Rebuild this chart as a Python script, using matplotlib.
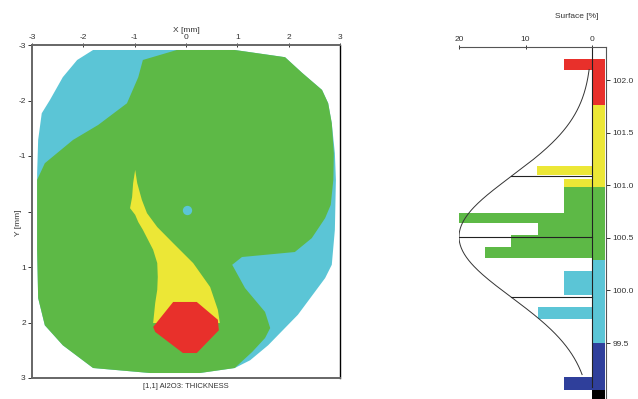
import numpy as np
import matplotlib
matplotlib.use('Agg')
import matplotlib.pyplot as plt

plt.rcParams['font.family'] = ['Liberation Sans', 'DejaVu Sans']
plt.rcParams['axes.unicode_minus'] = False

CYAN = '#5bc5d6'
GREEN = '#5db946'
YELLOW = '#ece736'
RED = '#e8302b'
BLUE = '#2f3f9b'

# thickness map outlines (x, y in mm)
outer_x = [-1.81, 0.95, 1.93, 2.26, 2.65, 2.77, 2.84, 2.90, 2.92, 2.90, 2.84, 2.71, 2.18, 1.60,
           1.25, 0.95, 0.27, -0.70, -1.81, -2.40, -2.75, -2.88, -2.90, -2.90, -2.88, -2.81,
           -2.65, -2.40, -2.12]
outer_y = [-2.91, -2.91, -2.78, -2.50, -2.19, -1.95, -1.59, -1.05, -0.57, 0.33, 0.96, 1.20, 1.86,
           2.41, 2.68, 2.82, 2.91, 2.91, 2.82, 2.41, 2.05, 1.56, 0.69, -0.69, -1.29, -1.77,
           -2.01, -2.42, -2.73]

green_x = [-0.18, 0.95, 1.93, 2.26, 2.65, 2.77, 2.84, 2.88, 2.87, 2.82, 2.71, 2.45, 2.12, 1.09,
           0.90, 1.15, 1.54, 1.64, 1.54, 1.29, 0.95, 0.27, -0.70, -1.81, -2.40, -2.75, -2.88,
           -2.90, -2.90, -2.75, -2.20, -1.71, -1.15, -0.93, -0.84]
green_y = [-2.91, -2.91, -2.78, -2.50, -2.19, -1.95, -1.59, -1.05, -0.57, -0.12, 0.12, 0.48,
           0.73, 0.82, 0.96, 1.38, 1.81, 2.10, 2.28, 2.53, 2.82, 2.91, 2.91, 2.82, 2.41, 2.05,
           1.56, 0.69, -0.57, -0.87, -1.29, -1.56, -1.95, -2.42, -2.73]

yellow_x = [-0.99, -1.03, -1.05, -1.09, -0.99, -0.93, -0.84, -0.74, -0.64, -0.56, -0.55, -0.56,
            -0.60, -0.64, 0.66, 0.62, 0.47, 0.14, -0.25, -0.56, -0.76, -0.86, -0.95]
yellow_y = [-0.75, -0.51, -0.26, -0.06, 0.06, 0.19, 0.33, 0.51, 0.69, 0.93, 1.18, 1.41, 1.65,
            2.01, 2.01, 1.77, 1.36, 0.93, 0.57, 0.28, 0.03, -0.21, -0.51]

red_x = [-0.64, -0.25, 0.21, 0.62, 0.64, 0.21, -0.06, -0.60]
red_y = [2.08, 1.63, 1.63, 1.95, 2.14, 2.55, 2.55, 2.17]

spot_x, spot_y = 0.02, -0.03

map_ticks = [-3, -2, -1, 0, 1, 2, 3]

# colour scale (thickness levels) and histogram bins
level_edges = [98.90, 99.05, 99.50, 100.29, 100.98, 101.76, 102.20]
level_colors = ['black', BLUE, CYAN, GREEN, YELLOW, RED]

bin_lo = [102.10, 101.10, 100.98, 100.74, 100.64, 100.53, 100.41, 100.31, 99.96, 99.73, 99.05]
bin_hi = [102.20, 101.18, 101.06, 100.98, 100.74, 100.64, 100.53, 100.41, 100.18, 99.84, 99.18]
bin_pct = [4.2, 8.3, 4.2, 4.2, 20.1, 8.1, 12.2, 16.1, 4.2, 8.1, 4.2]

fit_mean = 100.51
fit_sigma = 0.575
fit_peak = 20.0

hist_ticks = [99.5, 100.0, 100.5, 101.0, 101.5, 102.0]

fig = plt.figure(figsize=(6.38, 3.99), dpi=100)

# ---- thickness map ----
ax = fig.add_axes([32 / 638, 21 / 399, 308 / 638, 333 / 399])
ax.fill(outer_x, outer_y, color=CYAN, lw=0)
ax.fill(green_x, green_y, color=GREEN, lw=0)
ax.fill(yellow_x, yellow_y, color=YELLOW, lw=0)
ax.fill(red_x, red_y, color=RED, lw=0)
ax.scatter([spot_x], [spot_y], s=45, color=CYAN, marker='o', lw=0)
ax.set_xlim(-3, 3)
ax.set_ylim(3, -3)
ax.xaxis.tick_top()
ax.set_xticks(map_ticks)
ax.set_yticks(map_ticks)
ax.set_yticklabels([str(t) if t != 0 else '' for t in map_ticks])
ax.tick_params(axis='both', labelsize=6, colors='#333333', length=3, width=0.7, pad=1.5)
ax.tick_params(axis='x', direction='inout')
for side in ['left', 'bottom', 'top']:
    ax.spines[side].set_color('#666666')
    ax.spines[side].set_linewidth(1.4)
ax.spines['right'].set_color('black')
ax.spines['right'].set_linewidth(1.0)
fig.text(186 / 638, 1 - 30 / 399, 'X [mm]', fontsize=6, color='#333333', ha='center', va='center')
fig.text(18 / 638, 1 - 223 / 399, 'Y [mm]', fontsize=6, color='#333333', ha='center',
         va='center', rotation=90)
fig.text(186 / 638, 1 - 386 / 399, '[1,1] Al2O3: THICKNESS', fontsize=5.5, color='#333333',
         ha='center', va='center')

# ---- thickness distribution ----
hx = fig.add_axes([459 / 638, 0, 147 / 638, 352 / 399])
hx.set_xlim(20, -2.1)
hx.set_ylim(98.968, 102.314)

for i in range(len(level_colors)):
    hx.barh(level_edges[i], -2.0, height=level_edges[i + 1] - level_edges[i], left=0,
            align='edge', color=level_colors[i], lw=0)

for lo, hi, pct in zip(bin_lo, bin_hi, bin_pct):
    mid = (lo + hi) / 2
    k = np.searchsorted(level_edges, mid) - 1
    hx.barh(lo, pct, height=hi - lo, left=0, align='edge', color=level_colors[k], lw=0)

# fitted normal curve with mean and +/- 1 sigma markers
v = np.linspace(99.2, 102.1, 300)
curve = fit_peak * np.exp(-0.5 * ((v - fit_mean) / fit_sigma) ** 2)
hx.plot(curve, v, color='#333333', lw=0.7)
for d in [-1, 0, 1]:
    lv = fit_mean + d * fit_sigma
    hx.plot([fit_peak * np.exp(-0.5 * d * d), 0], [lv, lv], color='#222222', lw=0.8)
hx.plot([0, 0], [99.08, 102.314], color='#222222', lw=0.8)

hx.xaxis.tick_top()
hx.set_xticks([20, 10, 0])
hx.yaxis.tick_right()
hx.set_yticks(hist_ticks)
hx.set_yticklabels(['%.1f' % t for t in hist_ticks])
hx.tick_params(axis='both', labelsize=6, colors='#333333', length=3, width=0.7, pad=1.5)
hx.tick_params(axis='x', direction='inout')
hx.spines['left'].set_visible(False)
hx.spines['bottom'].set_visible(False)
hx.spines['top'].set_color('#555555')
hx.spines['right'].set_color('#555555')
fig.text(577 / 638, 1 - 17 / 399, 'Surface [%]', fontsize=6, color='#333333', ha='center',
         va='center')

fig.savefig('out.png', dpi=100)
